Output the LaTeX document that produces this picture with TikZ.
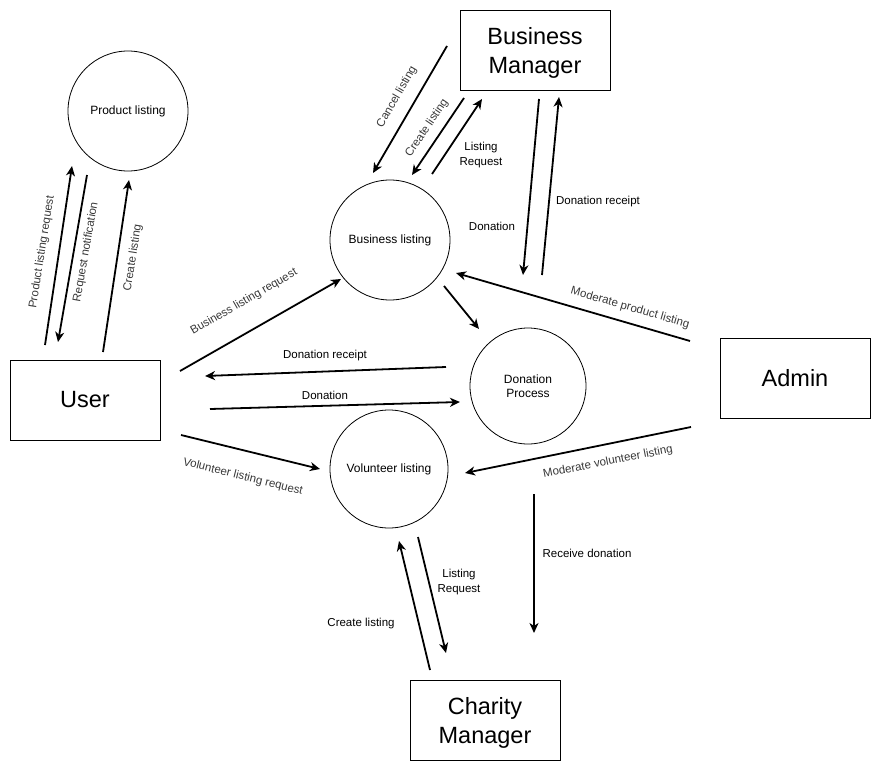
\documentclass[tikz,border=0pt]{standalone}
\usepackage{fontspec}
\setmainfont{Liberation Sans}
\usetikzlibrary{arrows.meta}
\begin{document}
\begin{tikzpicture}[x=1pt,y=-1pt,
  proc/.style={circle,draw,line width=0.8pt,inner sep=0pt,font=\fontsize{12}{14}\selectfont,align=center},
  ent/.style={rectangle,draw,line width=0.8pt,minimum width=150pt,minimum height=80pt,inner sep=0pt,font=\fontsize{23.5}{29}\selectfont,align=center},
  flow/.style={line width=1.8pt,-{Stealth[length=10pt,width=9pt,inset=3pt]}},
  lbl/.style={inner sep=1pt,font=\fontsize{11.5}{14.5}\selectfont,align=center},
  rlbl/.style={lbl,text=black!78}
]
\useasboundingbox (0,0) rectangle (882,781);

% processes
\node[proc,minimum size=120pt] (pl) at (128,111) {Product listing};
\node[proc,minimum size=120pt] (bl) at (390,240) {Business listing};
\node[proc,minimum size=116pt] (dp) at (528,386) {Donation\\Process};
\node[proc,minimum size=118pt] (vl) at (389,469) {Volunteer listing};

% entities
\node[ent] (user) at (85,400) {User};
\node[ent] (bm) at (535,50) {\rule{0pt}{23pt}Business\\Manager};
\node[ent] (admin) at (795,378) {Admin};
\node[ent] (cm) at (485,720) {\rule{0pt}{23pt}Charity\\Manager};

% connector end points
\coordinate (a1s) at (45,345);  \coordinate (a1e) at (72,166);
\coordinate (a2s) at (87,175);  \coordinate (a2e) at (58,342);
\coordinate (a3s) at (103,352); \coordinate (a3e) at (129,180);
\coordinate (a4s) at (180,371); \coordinate (a4e) at (341,279);
\coordinate (a5s) at (446,367); \coordinate (a5e) at (205,376);
\coordinate (a6s) at (210,409); \coordinate (a6e) at (460,402);
\coordinate (a7s) at (181,435); \coordinate (a7e) at (320,469);
\coordinate (a8s) at (444,286); \coordinate (a8e) at (479,329);
\coordinate (a9s) at (447,46);  \coordinate (a9e) at (373,173);
\coordinate (a10s) at (464,98); \coordinate (a10e) at (412,175);
\coordinate (a11s) at (432,174); \coordinate (a11e) at (482,99);
\coordinate (a12s) at (539,99); \coordinate (a12e) at (523,275);
\coordinate (a13s) at (542,275); \coordinate (a13e) at (559,97);
\coordinate (a14s) at (690,341); \coordinate (a14e) at (456,273);
\coordinate (a15s) at (691,427); \coordinate (a15e) at (465,473);
\coordinate (a16s) at (534,494); \coordinate (a16e) at (534,633);
\coordinate (a17s) at (430,670); \coordinate (a17e) at (399,541);
\coordinate (a18s) at (418,537); \coordinate (a18e) at (446,653);

\foreach \i in {1,...,18} {\draw[flow] (a\i s) -- (a\i e);}

% labels
\node[rlbl,rotate=81] (l1) at (42,252) {Product listing request};
\node[rlbl,rotate=80] (l2) at (86,252) {Request notification};
\node[rlbl,rotate=81] (l3) at (133,258) {Create listing};
\node[rlbl,rotate=30] (l4) at (244,302) {Business listing request};
\node[lbl] (l5) at (325,356) {Donation receipt};
\node[lbl] (l6) at (325,395) {Donation};
\node[rlbl,rotate=-14] (l7) at (243,477) {Volunteer listing request};
\node[rlbl,rotate=60] (l8) at (397,97) {Cancel listing};
\node[rlbl,rotate=56] (l9) at (427,128) {Create listing};
\node[lbl] (l10) at (481,155) {Listing\\Request};
\node[lbl] (l11) at (492,226) {Donation};
\node[lbl] (l12) at (598,202) {Donation receipt};
\node[rlbl,rotate=-16] (l13) at (630,308) {Moderate product listing};
\node[rlbl,rotate=11] (l14) at (608,462) {Moderate volunteer listing};
\node[lbl] (l15) at (587,553) {Receive donation};
\node[lbl] (l16) at (459,582) {Listing\\Request};
\node[lbl] (l17) at (361,624) {Create listing};
\end{tikzpicture}
\end{document}
